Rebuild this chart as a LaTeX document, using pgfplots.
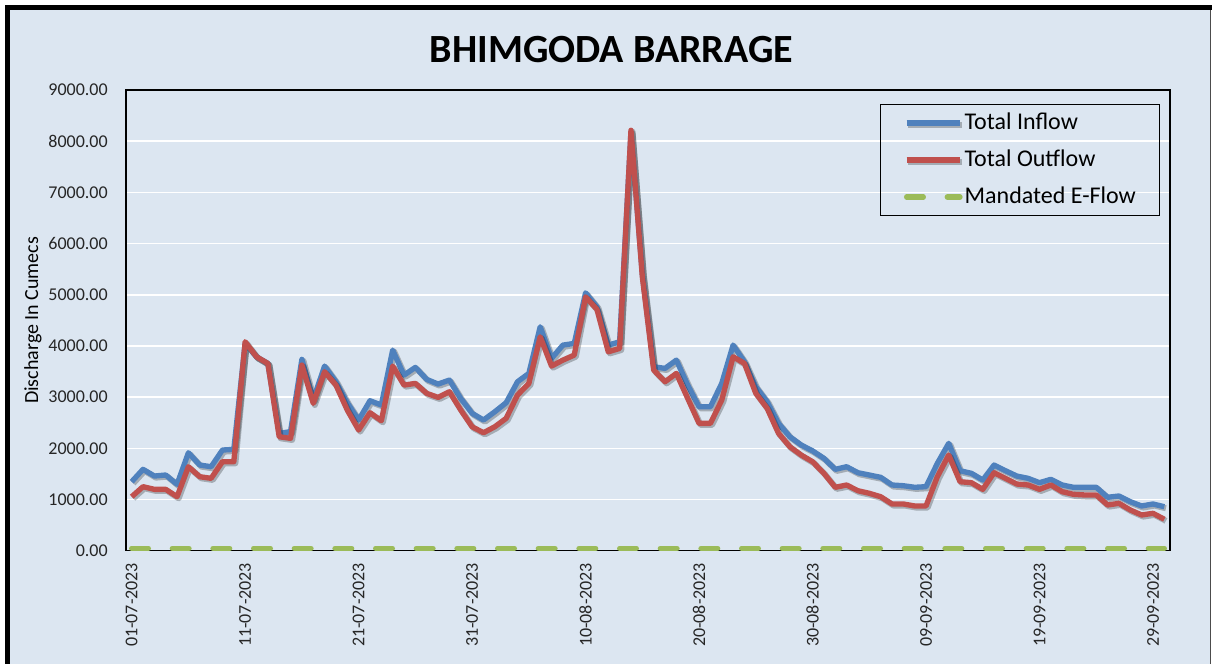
\documentclass[border=0pt]{standalone}
\usepackage{pgfplots}
\pgfplotsset{compat=1.18}
\usepackage{pgfplotstable}
\usepackage{fontspec}
\setmainfont{Carlito}
\definecolor{bg}{HTML}{DCE6F1}
\definecolor{cin}{HTML}{4F81BD}
\definecolor{cout}{HTML}{C0504D}
\definecolor{cef}{HTML}{9BBB59}
\pgfplotstableread{
x in out ef
0 1347 1054 45
1 1589 1250 45
2 1458 1198 45
3 1478 1198 45
4 1296 1054 45
5 1913 1640 45
6 1673 1445 45
7 1640 1413 45
8 1966 1738 45
9 1979 1738 45
10 4050 4081 45
11 3788 3788 45
12 3658 3658 45
13 2292 2226 45
14 2325 2194 45
15 3737 3626 45
16 2950 2878 45
17 3606 3495 45
18 3300 3235 45
19 2890 2747 45
20 2552 2357 45
21 2929 2695 45
22 2845 2538 45
23 3918 3606 45
24 3430 3235 45
25 3581 3268 45
26 3346 3073 45
27 3255 2995 45
28 3333 3105 45
29 2975 2747 45
30 2683 2421 45
31 2552 2304 45
32 2714 2421 45
33 2890 2585 45
34 3300 3040 45
35 3463 3268 45
36 4373 4178 45
37 3756 3606 45
38 4016 3723 45
39 4049 3821 45
40 5037 4959 45
41 4764 4713 45
42 4016 3885 45
43 4081 3951 45
44 8180 8214 45
45 5400 5350 45
46 3593 3528 45
47 3561 3300 45
48 3723 3463 45
49 3235 2975 45
50 2811 2487 45
51 2811 2487 45
52 3268 2942 45
53 4016 3788 45
54 3690 3658 45
55 3202 3073 45
56 2909 2780 45
57 2487 2292 45
58 2226 2030 45
59 2064 1868 45
60 1950 1738 45
61 1804 1511 45
62 1589 1238 45
63 1640 1283 45
64 1523 1171 45
65 1478 1121 45
66 1433 1054 45
67 1283 912 45
68 1269 912 45
69 1238 873 45
70 1250 873 45
71 1706 1445 45
72 2097 1868 45
73 1562 1347 45
74 1511 1328 45
75 1380 1198 45
76 1673 1523 45
77 1562 1413 45
78 1458 1302 45
79 1413 1283 45
80 1328 1198 45
81 1394 1283 45
82 1283 1152 45
83 1238 1101 45
84 1238 1088 45
85 1238 1088 45
86 1043 892 45
87 1068 925 45
88 957 795 45
89 873 697 45
90 912 730 45
91 859 613 45
}\flowdata
\begin{document}
\begin{tikzpicture}
\path[use as bounding box] (0pt,0pt) rectangle (909pt,498pt);
\fill[white] (0pt,0pt) rectangle (909pt,498pt);
\fill[bg] (3.75pt,0pt) rectangle (907.5pt,494.25pt);
\fill[black] (3.75pt,490.5pt) rectangle (909pt,494.25pt);
\fill[black] (3.75pt,0pt) rectangle (7.5pt,494.25pt);
\draw[black!70, line width=0.75pt] (907.5pt,0pt) -- (907.5pt,490.5pt);
\node[font=\fontsize{30}{36}\selectfont\bfseries, inner sep=0pt] at (458.6pt,460.5pt) {BHIMGODA BARRAGE};
\begin{axis}[
  at={(94.5pt,85pt)}, anchor=south west,
  scale only axis, width=783pt, height=345.5pt,
  xmin=-0.5, xmax=91.5, ymin=0, ymax=9000,
  axis line style={black, line width=1pt},
  major tick length=0pt,
  xtick={0,10,...,90},
  xticklabels={01-07-2023,11-07-2023,21-07-2023,31-07-2023,10-08-2023,20-08-2023,30-08-2023,09-09-2023,19-09-2023,29-09-2023},
  ytick={0,1000,...,9000},
  ymajorgrids, grid style={white, line width=1.2pt},
  /pgf/number format/.cd, fixed, fixed zerofill, precision=2, 1000 sep={}, assume math mode=true,
  /pgfplots/.cd,
  yticklabel style={font=\fontsize{13.5}{16}\selectfont, inner sep=0pt, text=black!85},
  yticklabel shift=13.5pt,
  xticklabel style={font=\fontsize{13.5}{16}\selectfont, inner sep=0pt, rotate=90, anchor=east, text=black!85},
  xticklabel shift=9pt,
  every axis y label/.style={at={(axis description cs:-0.0891,0.5)}, rotate=90, anchor=center, font=\fontsize{15}{18}\selectfont},
  ylabel={Discharge In Cumecs},
  legend style={at={(0.9904,0.9696)}, anchor=north east, draw=black, line width=1.1pt, fill=none,
    font=\fontsize{18}{21}\selectfont, inner xsep=17.5pt, inner ysep=5.25pt, row sep=10.75pt,
    nodes={inner sep=0pt, text height=13pt, text depth=4pt},
    /tikz/every odd column/.append style={column sep=1.5pt}},
  legend cell align=left,
  legend image code/.code={\draw[#1] (0pt,0pt) -- (40pt,0pt);},
]
\addplot[cin, line width=4pt, line join=round,
  preaction={draw=black, opacity=0.25, line width=4.5pt, transform canvas={xshift=1.2pt,yshift=-1.2pt}}]
  table[x=x, y=in] {\flowdata};
\addlegendentry{Total Inflow}
\addplot[cout, line width=4pt, line join=round,
  preaction={draw=black, opacity=0.25, line width=4.5pt, transform canvas={xshift=1.2pt,yshift=-1.2pt}}]
  table[x=x, y=out] {\flowdata};
\addlegendentry{Total Outflow}
\addplot[cef, line width=4pt, line cap=round, dash pattern=on 12.5pt off 18pt]
  table[x=x, y=ef] {\flowdata};
\addlegendentry{Mandated E-Flow}
\end{axis}
\end{tikzpicture}
\end{document}
